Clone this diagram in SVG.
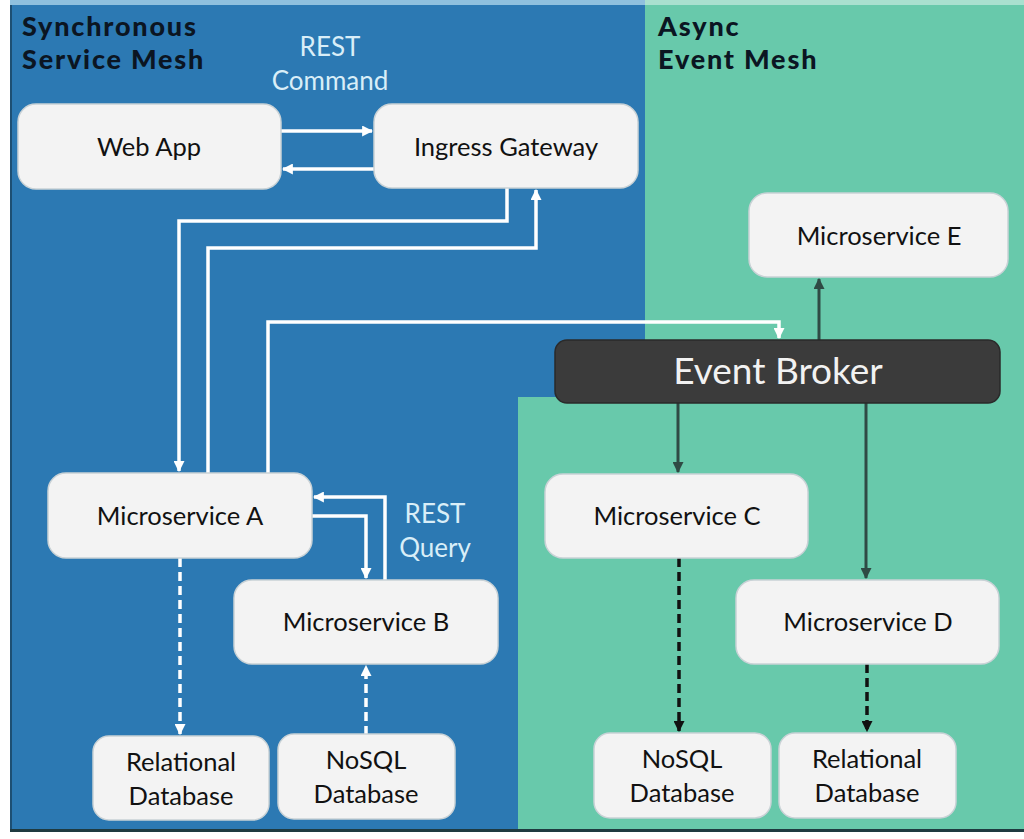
<svg xmlns="http://www.w3.org/2000/svg" width="1024" height="839" viewBox="0 0 1024 839">
<defs>
<style>
.node rect{fill:#f3f3f3;stroke:#c9d2d6;stroke-width:1.5}
.lbl{font-family:Lato,"Open Sans","Liberation Sans",sans-serif;font-size:25.5px;fill:#111111;text-anchor:middle}
.title{font-family:Lato,"Liberation Sans",sans-serif;font-size:27px;font-weight:900;fill:#0b1522;letter-spacing:1.8px}
.note{font-family:Lato,"Liberation Sans",sans-serif;font-size:26px;fill:#d9eef8;text-anchor:middle}
.w{fill:none;stroke:#ffffff;stroke-width:3.5}
.wd{fill:none;stroke:#ffffff;stroke-width:3.5;stroke-dasharray:9 5}
.k{fill:none;stroke:#2f4a44;stroke-width:3}
.kd{fill:none;stroke:#111;stroke-width:3.5;stroke-dasharray:9 5}
</style>
<marker id="aw" viewBox="0 0 10 10" refX="9" refY="5" markerWidth="11" markerHeight="11" markerUnits="userSpaceOnUse" orient="auto"><path d="M0,0 L10,5 L0,10 z" fill="#ffffff"/></marker>
<marker id="ak" viewBox="0 0 10 10" refX="9" refY="5" markerWidth="11" markerHeight="11" markerUnits="userSpaceOnUse" orient="auto"><path d="M0,0 L10,5 L0,10 z" fill="#2f4a44"/></marker>
<marker id="akd" viewBox="0 0 10 10" refX="9" refY="5" markerWidth="11" markerHeight="11" markerUnits="userSpaceOnUse" orient="auto"><path d="M0,0 L10,5 L0,10 z" fill="#111"/></marker>
</defs>
<rect x="0" y="0" width="1024" height="839" fill="#ffffff"/>
<g id="background">
<rect x="10" y="0" width="1014" height="6" fill="#8fc0de"/>
<rect x="645" y="0" width="379" height="6" fill="#a9e0cf"/>
<rect x="10" y="5" width="1014" height="827" fill="#2c79b3"/>
<path d="M645,5 H1024 V832 H518 V397 H645 Z" fill="#68c9ab"/>
<rect x="10" y="5" width="2" height="827" fill="#1d4f73"/>
<rect x="10" y="829" width="1014" height="3" fill="#1f3a40"/>
<text class="title" x="22" y="36">Synchronous</text>
<text class="title" x="22" y="69">Service Mesh</text>
<text class="title" x="658" y="36">Async</text>
<text class="title" x="658" y="69">Event Mesh</text>
<text class="note" x="330" y="56">REST</text>
<text class="note" x="330" y="90">Command</text>
<text class="note" x="435" y="523">REST</text>
<text class="note" x="435" y="557">Query</text>
</g>
<g id="connectors">
<path class="w" d="M281,131 H372" marker-end="url(#aw)"/>
<path class="w" d="M374,169 H283" marker-end="url(#aw)"/>
<path class="w" d="M507,188 V221 H179 V471" marker-end="url(#aw)"/>
<path class="w" d="M208,473 V248 H536 V190" marker-end="url(#aw)"/>
<path class="w" d="M268,473 V322 H779 V338" marker-end="url(#aw)"/>
<path class="w" d="M312,516 H366 V578" marker-end="url(#aw)"/>
<path class="w" d="M385,580 V497 H314" marker-end="url(#aw)"/>
<path class="wd" d="M180,558 V734" marker-end="url(#aw)"/>
<path class="wd" d="M366,735 V666" marker-end="url(#aw)"/>
<path class="k" d="M819,340 V279" marker-end="url(#ak)"/>
<path class="k" d="M678,403 V472" marker-end="url(#ak)"/>
<path class="k" d="M866,403 V578" marker-end="url(#ak)"/>
<path class="kd" d="M679,558 V731" marker-end="url(#akd)"/>
<path class="kd" d="M867,664 V731" marker-end="url(#akd)"/>
</g>
<g id="web-app" class="node"><rect x="18" y="104" width="263" height="85" rx="18"/><text class="lbl" x="149" y="156">Web App</text></g>
<g id="ingress-gateway" class="node"><rect x="374" y="104" width="264" height="84" rx="18"/><text class="lbl" x="506" y="156">Ingress Gateway</text></g>
<g id="microservice-e" class="node"><rect x="749" y="193" width="259" height="84" rx="18"/><text class="lbl" x="879" y="245">Microservice E</text></g>
<g id="event-broker"><rect x="555" y="340" width="445" height="63" rx="12" fill="#3b3b3b" stroke="#2a2a2a" stroke-width="1.5"/><text x="778" y="384" font-family="Lato,'Open Sans','Liberation Sans',sans-serif" font-size="37" fill="#f2f2f2" text-anchor="middle">Event Broker</text></g>
<g id="microservice-a" class="node"><rect x="48" y="473" width="264" height="85" rx="18"/><text class="lbl" x="180" y="525">Microservice A</text></g>
<g id="microservice-b" class="node"><rect x="234" y="580" width="264" height="84" rx="18"/><text class="lbl" x="366" y="631">Microservice B</text></g>
<g id="microservice-c" class="node"><rect x="545" y="474" width="263" height="84" rx="18"/><text class="lbl" x="677" y="525">Microservice C</text></g>
<g id="microservice-d" class="node"><rect x="736" y="580" width="263" height="84" rx="18"/><text class="lbl" x="868" y="631">Microservice D</text></g>
<g id="relational-db-left" class="node"><rect x="93" y="736" width="176" height="84" rx="16"/><text class="lbl" x="181" y="771">Relational</text><text class="lbl" x="181" y="805">Database</text></g>
<g id="nosql-db-left" class="node"><rect x="278" y="734" width="177" height="85" rx="16"/><text class="lbl" x="366" y="769">NoSQL</text><text class="lbl" x="366" y="803">Database</text></g>
<g id="nosql-db-right" class="node"><rect x="594" y="733" width="177" height="85" rx="16"/><text class="lbl" x="682" y="768">NoSQL</text><text class="lbl" x="682" y="802">Database</text></g>
<g id="relational-db-right" class="node"><rect x="779" y="733" width="177" height="85" rx="16"/><text class="lbl" x="867" y="768">Relational</text><text class="lbl" x="867" y="802">Database</text></g>
</svg>
